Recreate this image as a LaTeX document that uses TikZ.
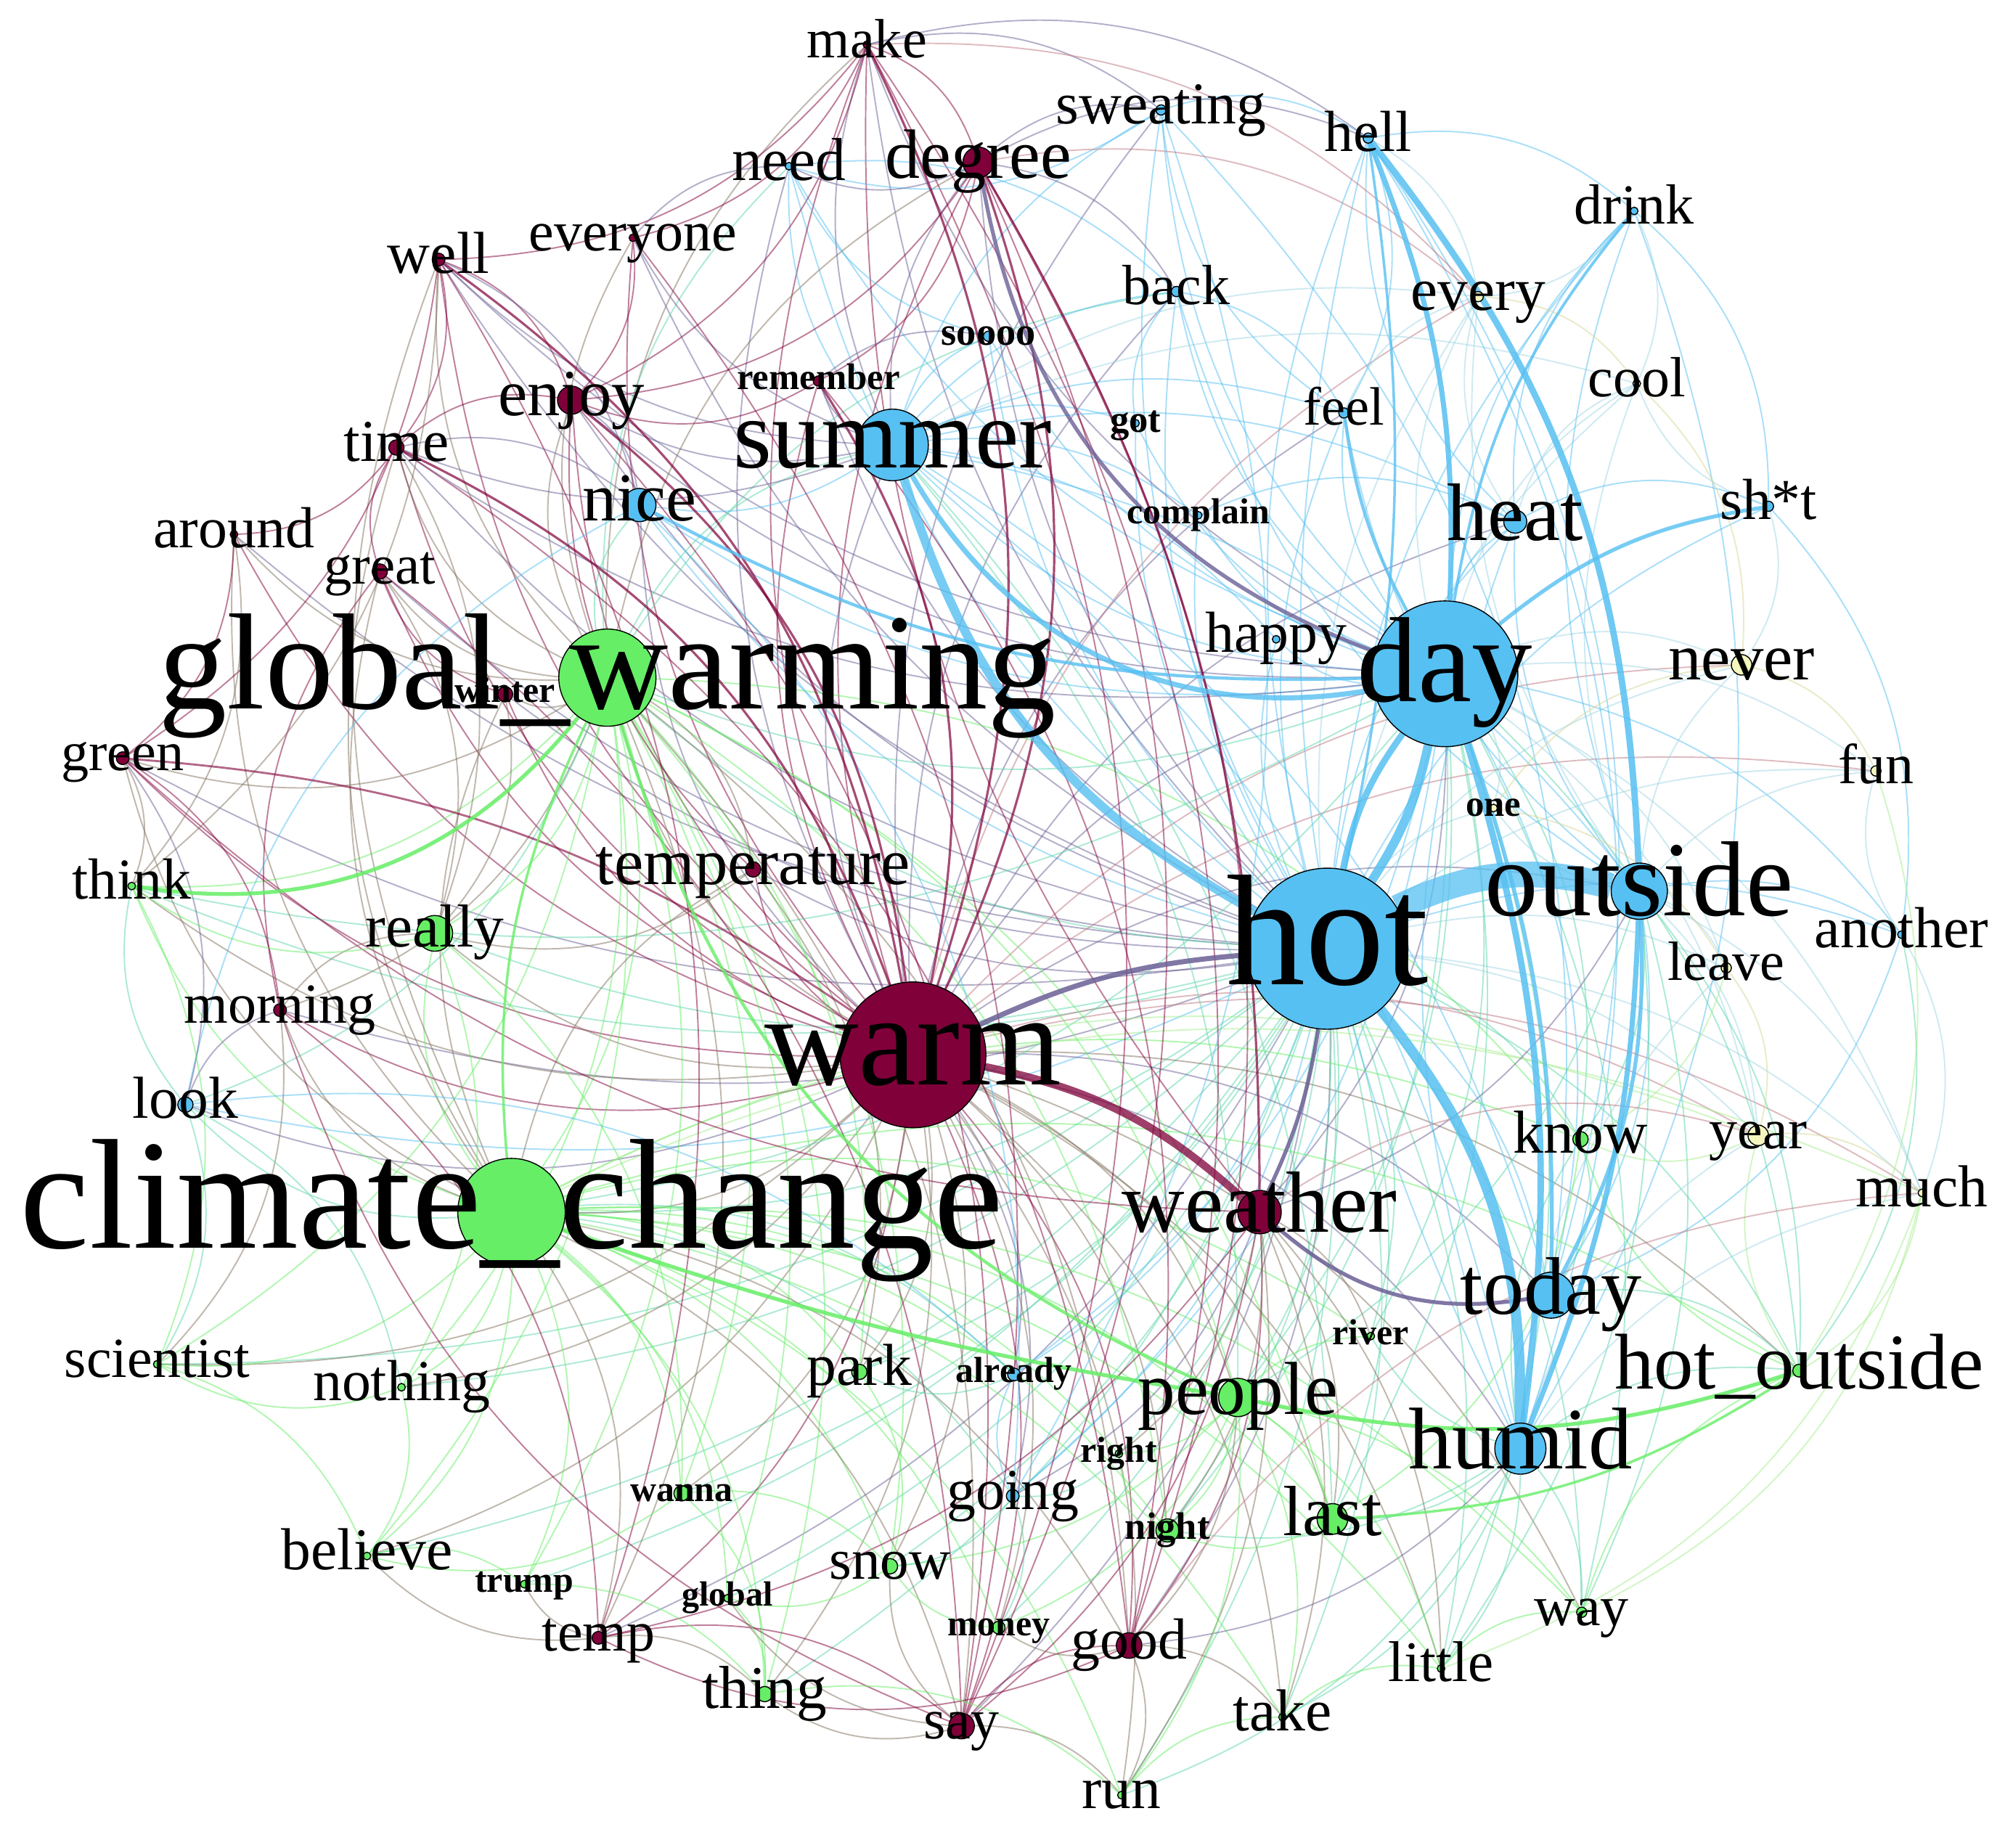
\documentclass[tikz,border=0pt]{standalone}
\usepackage{fontspec}
\setmainfont{Liberation Serif}
\pgfdeclarelayer{bg}
\pgfdeclarelayer{edges}
\pgfsetlayers{bg,edges,main}
\definecolor{cM}{RGB}{128,0,58}
\definecolor{cB}{RGB}{86,192,242}
\definecolor{cG}{RGB}{102,238,102}
\definecolor{cY}{RGB}{245,245,190}
\definecolor{cMB}{RGB}{107,96,150}
\definecolor{cMG}{RGB}{130,115,95}
\definecolor{cBG}{RGB}{94,215,172}
\definecolor{cBY}{RGB}{160,215,228}
\definecolor{cGY}{RGB}{165,238,140}
\definecolor{cMY}{RGB}{190,120,130}
\definecolor{cYY}{RGB}{215,215,150}
\tikzset{
 circ/.style={circle, draw=black, line width=0.4pt, inner sep=0pt},
 lab/.style={inner sep=0pt, anchor=base, text=black},
 fe/.style={line width=0.55pt, draw opacity=0.5},
 eBB/.style={fe, draw=cB}, eMM/.style={fe, draw=cM}, eGG/.style={fe, draw=cG},
 eMB/.style={fe, draw=cMB}, eMG/.style={fe, draw=cMG}, eBG/.style={fe, draw=cBG},
 eBY/.style={fe, draw=cBY}, eGY/.style={fe, draw=cGY}, eMY/.style={fe, draw=cMY},
 eYY/.style={fe, draw=cYY},
 lw/.style={line width=#1*0.5pt}
}
\newcommand\Wcirc[7]{\node[circ, fill=#5, minimum size={#4}] (#1) at (#2,#3) {};}
\newcommand\Wlab[7]{\node[lab, font=\fontsize{\fpeval{#6*0.515}}{\fpeval{#6*0.515}}\selectfont] (#1-l) at (#2,{#3+0.235*#6}) {#7};}
\newcommand\HubE[4]{\foreach \ex in {#4} {\draw[#1] (#2) to[bend left=#3] (\ex);}}
\newcommand\PairE[3]{\foreach \ea/\eb in {#3} {\draw[#1] (\ea) to[bend left=#2] (\eb);}}
\newcommand\NODES{%
\WW{make}{678}{35}{3}{cM}{42}{make}%
\WW{sweating}{908}{86}{4}{cB}{45}{sweating}%
\WW{hell}{1070}{108}{4}{cB}{44}{hell}%
\WW{need}{617}{130}{3}{cB}{46}{need}%
\WW{degree}{765}{127}{12}{cM}{53}{degree}%
\WW{drink}{1278}{165}{3}{cB}{43}{drink}%
\WW{well}{343}{203}{5}{cM}{45}{well}%
\WW{everyone}{495}{186}{3}{cM}{43}{everyone}%
\WW{back}{920}{228}{4}{cB}{43}{back}%
\WW{every}{1156}{232}{4}{cY}{46}{every}%
\WW{soooo}{773}{263}{4}{cB}{30}{\bfseries soooo}%
\WW{cool}{1280}{300}{3}{cY}{43}{cool}%
\WW{enjoy}{447}{313}{11}{cM}{50}{enjoy}%
\WW{remember}{640}{298}{4}{cM}{28}{\bfseries remember}%
\WW{time}{310}{350}{6}{cM}{45}{time}%
\WW{summer}{698}{348}{28}{cB}{75}{summer}%
\WW{got}{888}{331}{3}{cB}{29}{\bfseries got}%
\WW{feel}{1051}{323}{4}{cB}{41}{feel}%
\WW{nice}{500}{395}{13}{cB}{52}{nice}%
\WW{complain}{937}{403}{3}{cB}{27.5}{\bfseries complain}%
\WW{around}{183}{418}{3}{cM}{44}{around}%
\WW{sht}{1383}{396}{4}{cB}{44}{sh*t}%
\WW{heat}{1185}{408}{9}{cB}{62}{heat}%
\WW{great}{297}{447}{6}{cM}{42.5}{great}%
\WW{gw}{475}{530}{38}{cG}{104}{global\_warming}%
\WW{winter}{395}{543}{6}{cM}{27.5}{\bfseries winter}%
\WW{happy}{998}{500}{3}{cB}{44}{happy}%
\WW{day}{1130}{527}{57}{cB}{92}{day}%
\WW{never}{1362}{520}{8}{cY}{50}{never}%
\WW{green}{96}{593}{5}{cM}{42}{green}%
\WW{fun}{1467}{603}{4}{cY}{43}{fun}%
\WW{one}{1168}{632}{3}{cY}{28}{\bfseries one}%
\WW{think}{103}{693}{3}{cG}{44}{think}%
\WW{temperature}{589}{680}{6}{cM}{50}{temperature}%
\WW{outside}{1282}{697}{22}{cB}{81}{outside}%
\WW{hot}{1038}{742}{63}{cB}{120}{hot}%
\WW{really}{340}{730}{14}{cG}{46}{really}%
\WW{another}{1487}{731}{3}{cB}{44}{another}%
\WW{leave}{1350}{757}{4}{cY}{42}{leave}%
\WW{morning}{219}{790}{5}{cM}{43}{morning}%
\WW{warm}{714}{825}{57}{cM}{99}{warm}%
\WW{look}{145}{864}{6}{cB}{45}{look}%
\WW{know}{1236}{891}{6}{cG}{46}{know}%
\WW{year}{1375}{888}{8}{cY}{43}{year}%
\WW{much}{1503}{933}{3}{cY}{45}{much}%
\WW{cc}{400}{948}{42}{cG}{119}{climate\_change}%
\WW{weather}{985}{948}{17}{cM}{66}{weather}%
\WW{today}{1213}{1013}{18}{cB}{62}{today}%
\WW{river}{1072}{1045}{3}{cG}{27.5}{\bfseries river}%
\WW{hout}{1407}{1072}{5}{cG}{60}{hot\_outside}%
\WW{scientist}{123}{1067}{3}{cG}{43}{scientist}%
\WW{nothing}{314}{1085}{3}{cG}{44}{nothing}%
\WW{park}{672}{1073}{6}{cG}{45}{park}%
\WW{already}{793}{1075}{5}{cB}{27.5}{\bfseries already}%
\WW{people}{968}{1093}{15}{cG}{57}{people}%
\WW{humid}{1189}{1133}{20}{cB}{66.5}{humid}%
\WW{rgt}{875}{1137}{3}{cG}{27.5}{\bfseries right}%
\WW{wanna}{533}{1168}{6}{cG}{27.5}{\bfseries wanna}%
\WW{going}{792}{1170}{5}{cB}{44}{going}%
\WW{night}{913}{1197}{9}{cG}{29}{\bfseries night}%
\WW{last}{1042}{1188}{12}{cG}{54}{last}%
\WW{believe}{287}{1217}{3}{cG}{45}{believe}%
\WW{trump}{410}{1239}{3}{cG}{27.5}{\bfseries trump}%
\WW{snow}{696}{1225}{6}{cG}{43.6}{snow}%
\WW{global}{569}{1250}{3}{cG}{26.5}{\bfseries global}%
\WW{way}{1237}{1261}{4}{cG}{43}{way}%
\WW{temp}{468}{1281}{5}{cM}{43}{temp}%
\WW{money}{781}{1273}{5}{cG}{27.5}{\bfseries money}%
\WW{good}{883}{1287}{10}{cM}{44}{good}%
\WW{little}{1127}{1305}{3}{cG}{43.6}{little}%
\WW{thing}{598}{1325}{6}{cG}{46}{thing}%
\WW{take}{1003}{1343}{3}{cG}{45}{take}%
\WW{say}{752}{1350}{10}{cM}{43}{say}%
\WW{run}{877}{1404}{3}{cG}{45}{run}%
}
\begin{document}
\begin{tikzpicture}[x=0.5pt,y=-0.5pt]
\useasboundingbox (0,0) rectangle (1568,1445);
\begin{pgfonlayer}{bg}
\fill[white] (0,0) rectangle (1568,1445);
\end{pgfonlayer}
\let\WW\Wcirc \NODES
\let\WW\Wlab \NODES
\begin{pgfonlayer}{edges}
% ---- hub edges (thin)
\HubE{eBB}{hot}{18}{sweating,need,drink,back,soooo,got,feel,nice,complain,sht,heat,happy,another,look,already,going,hell,today}
\HubE{eMB}{hot}{18}{make,degree,well,everyone,enjoy,remember,time,around,great,winter,green,temperature,morning,temp,good,say}
\HubE{eBG}{hot}{18}{gw,cc,think,really,know,river,hout,scientist,nothing,park,rgt,wanna,night,last,believe,trump,snow,global,way,money,little,thing,take,run,people}
\HubE{eBY}{hot}{18}{every,cool,never,fun,one,leave,year,much}
\HubE{eMM}{warm}{22}{make,degree,well,everyone,enjoy,remember,time,around,great,winter,green,temperature,morning,temp,good,say}
\HubE{eMB}{warm}{22}{summer,day,outside,humid,today,heat,nice,need,sweating,look,already,going,feel,back}
\HubE{eMG}{warm}{22}{gw,cc,really,think,people,last,snow,park,thing,wanna,night,believe,nothing,scientist,money,run,take,little,way,hout}
\HubE{eMY}{warm}{22}{never,year,much,fun,every}
\HubE{eBB}{day}{20}{summer,heat,sweating,drink,back,feel,got,complain,happy,another,today,nice,going,already,soooo,need}
\HubE{eMB}{day}{20}{weather,enjoy,make,time,well}
\HubE{eBG}{day}{20}{gw,cc,know,people,last,hout,way,little,night,river,think}
\HubE{eBY}{day}{20}{every,cool,never,fun,one,leave,year,much}
\HubE{eGG}{gw}{24}{cc,think,really,people,nothing,scientist,believe,wanna,snow,global,thing,park,trump,last,night,know}
\HubE{eMG}{gw}{24}{well,everyone,enjoy,time,around,great,winter,green,temperature,morning,temp,say,good,make,degree}
\HubE{eBG}{gw}{24}{summer,nice,look,need,back}
\HubE{eGG}{cc}{24}{really,think,scientist,nothing,believe,trump,global,thing,wanna,snow,park,last,night,way,little,take,run,hout,know,rgt,river,money}
\HubE{eMG}{cc}{24}{morning,temp,say,good,green,great,around,time,well,winter,temperature}
\HubE{eBG}{cc}{24}{look,going,already}
\HubE{eGY}{cc}{24}{year,much}
\HubE{eBB}{summer}{20}{need,sweating,back,soooo,got,feel,nice,complain,heat,happy,outside,humid,today}
\HubE{eMB}{summer}{20}{degree,enjoy,remember,time,make,everyone,well}
\HubE{eBG}{summer}{20}{people,last}
\HubE{eBY}{summer}{20}{every,cool}
\HubE{eBB}{outside}{20}{drink,another,heat,feel,today,back}
\HubE{eBG}{outside}{20}{hout,know,way,little,people}
\HubE{eBY}{outside}{20}{cool,never,fun,leave,year,much,every,one}
\HubE{eMB}{outside}{20}{weather}
\HubE{eBB}{humid}{20}{today,heat,hell}
\HubE{eBG}{humid}{20}{hout,last,way,little,take,know,river,night,run}
\HubE{eBY}{humid}{20}{year,much,leave}
\HubE{eMB}{humid}{20}{good}
\HubE{eMM}{weather}{20}{good,say,temp,make,green}
\HubE{eMG}{weather}{20}{last,night,rgt,river,little,take,run}
\HubE{eMB}{weather}{20}{going}
\HubE{eGG}{people}{20}{last,night,rgt,river,way,little,take,money,run,snow}
\HubE{eMG}{people}{20}{good}
% ---- peripheral edges (thin)
\PairE{eMM}{25}{make/degree,make/well,make/everyone,make/enjoy,well/time,well/enjoy,well/green,time/around,time/enjoy,great/time,around/green,green/morning,morning/temp,temp/say,say/good,degree/enjoy,degree/remember,everyone/enjoy,remember/enjoy,winter/great,morning/great,temperature/enjoy,say/morning,good/temp,make/say,degree/good,well/temp,enjoy/say,time/good,degree/say,make/good,everyone/say,great/say,remember/good}
\PairE{eBB}{25}{sweating/hell,hell/drink,drink/sht,sht/another,sweating/need,need/back,back/feel,feel/sweating,hell/feel,look/nice,going/already,heat/hell,heat/drink,heat/sht,got/back,complain/heat,soooo/need,hell/humid,sweating/today,drink/humid,hell/today,sweating/going,nice/going,look/already,another/today}
\PairE{eBY}{25}{drink/every,drink/cool,hell/every,sht/never,sht/cool,another/much,another/fun,heat/every,feel/every,heat/cool}
\PairE{eMB}{25}{make/sweating,degree/sweating,degree/need,degree/back,everyone/need,look/morning,well/nice,enjoy/nice,time/nice,remember/soooo,green/look,make/hell,degree/hell}
\PairE{eMG}{25}{green/think,morning/really,temp/believe,temp/thing,say/thing,say/run,good/run,good/take,good/money,say/snow,great/really,around/think,winter/really,temperature/really,temperature/park,say/global,temp/trump,morning/scientist,well/think,time/really}
\PairE{eGG}{25}{think/scientist,scientist/believe,believe/trump,trump/thing,thing/run,run/take,take/little,little/way,way/hout,hout/know,know/last,last/night,night/rgt,wanna/snow,snow/global,global/thing,nothing/believe,nothing/scientist,really/think,really/nothing,park/snow,money/snow,wanna/believe,wanna/thing,really/wanna}
\PairE{eBG}{25}{look/scientist,look/think,going/snow,going/money,already/park,today/hout,another/hout,know/today,rgt/going,look/nothing}
\PairE{eGY}{25}{much/way,year/know,leave/know,much/little,hout/year,fun/hout,much/hout}
\PairE{eYY}{25}{every/cool,cool/never,never/fun,leave/year,year/much,one/never,one/leave}
\PairE{eMY}{25}{make/every,degree/every,weather/year,good/much}
% ---- medium edges
\foreach \ex in {make,degree,well,enjoy,time,remember} {\draw[eMM, lw=1.8, draw opacity=0.7] (warm) to[bend right=22] (\ex);}
\draw[eMM, lw=1.6, draw opacity=0.6] (warm) to[bend right=15] (green);
\draw[eMM, lw=1.8, draw opacity=0.7] (weather) to[bend right=15] (degree);
\draw[eMB, lw=3, draw opacity=0.8] (degree) to[bend right=30] (day);
\draw[eBB, lw=4, draw opacity=0.8] (summer) to[bend right=35] (day);
\draw[eBB, lw=3, draw opacity=0.8] (sht) to[bend right=15] (day);
\draw[eBB, lw=2.2, draw opacity=0.8] (drink) to[bend right=15] (day);
\draw[eBB, lw=2.5, draw opacity=0.8] (feel) to[bend right=10] (day);
\draw[eBB, lw=2, draw opacity=0.8] (hot) to[bend right=10] (hell);
\draw[eBB, lw=2.5, draw opacity=0.8] (nice) to[bend right=15] (day);
\draw[eBB, lw=3, draw opacity=0.8] (today) to[bend right=15] (outside);
\draw[eBB, lw=3, draw opacity=0.8] (today) to[bend right=10] (day);
\draw[eMB, lw=3, draw opacity=0.85] (weather) to[bend right=25] (today);
\draw[eMB, lw=3, draw opacity=0.85] (weather) to[bend right=8] (hot);
\draw[eMB, lw=4, draw opacity=0.85] (hot) to[bend right=10] (warm);
\draw[eMM, lw=6, draw opacity=0.75] (weather) to[bend right=15] (warm);
\draw[eGG, lw=3, draw opacity=0.85] (think) to[bend right=30] (gw);
\draw[eGG, lw=3, draw opacity=0.85] (cc) to[bend right=5] (people);
\draw[eGG, lw=3, draw opacity=0.85] (people) to[bend right=15] (hout);
\draw[eGG, lw=2.5, draw opacity=0.8] (gw) to[bend right=25] (people);
\draw[eGG, lw=2, draw opacity=0.8] (gw) to[bend right=15] (cc);
\draw[eGG, lw=2, draw opacity=0.8] (last) to[bend right=15] (hout);
% ---- thick blue edges
\draw[eBB, lw=7, draw opacity=0.8] (summer) to[bend right=22] (hot);
\draw[eBB, lw=5, draw opacity=0.85] (outside) to[bend right=18] (hell);
\draw[eBB, lw=4, draw opacity=0.85] (day) to[bend right=12] (hell);
\draw[eBB, lw=7, draw opacity=0.85] (hot) to[bend right=10] (day);
\draw[eBB, lw=5, draw opacity=0.85] (hot) to[bend left=12] (day);
\draw[eBB, lw=8, draw opacity=0.85] (humid) to[bend right=20] (hot);
\draw[eBB, lw=5, draw opacity=0.85] (humid) to[bend right=12] (day);
\draw[eBB, lw=4, draw opacity=0.85] (humid) to[bend right=10] (outside);
\draw[eBB, lw=20, draw opacity=0.75] (outside) to[bend right=20] (hot);
\end{pgfonlayer}
\end{tikzpicture}
\end{document}
